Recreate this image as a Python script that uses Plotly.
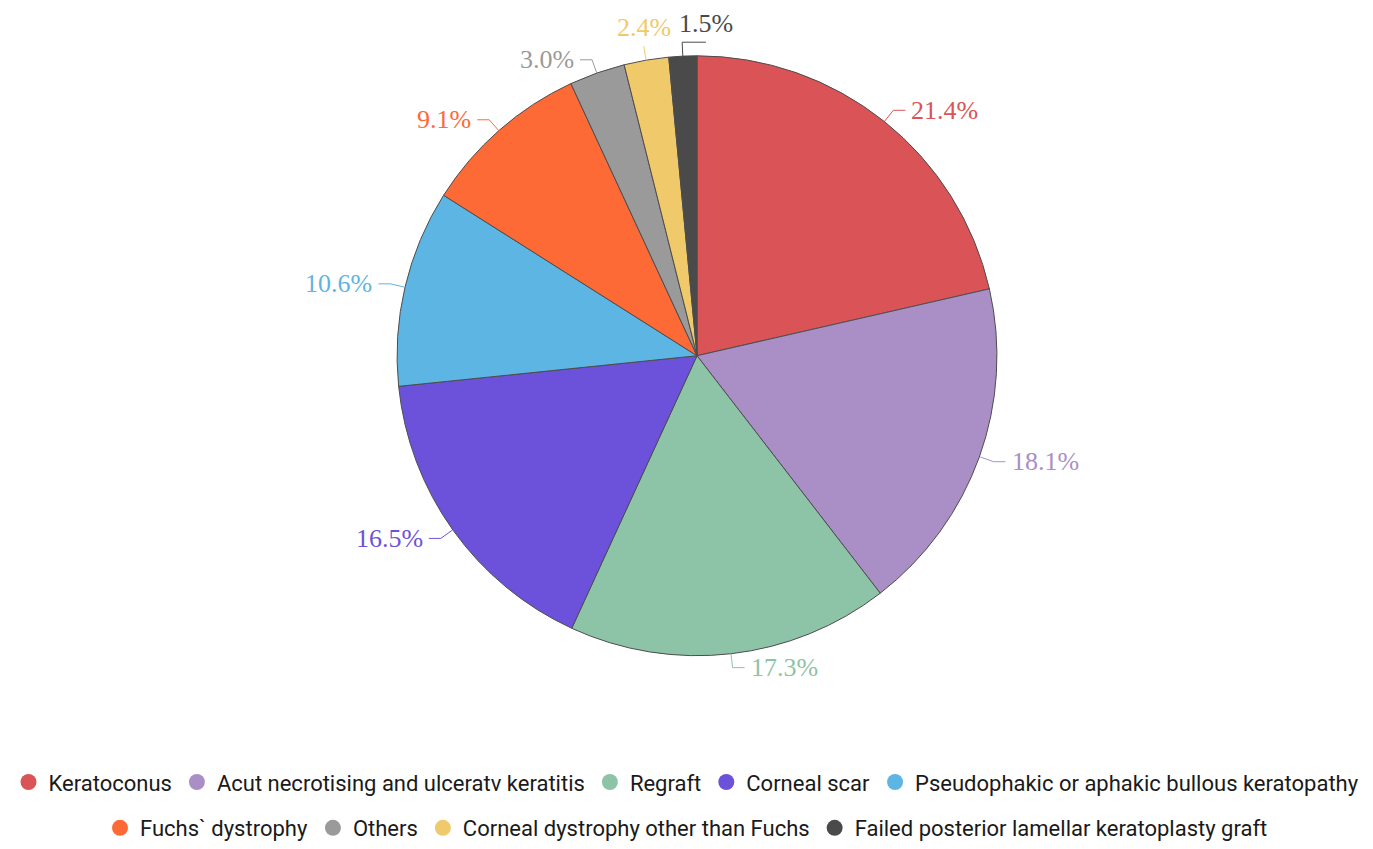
import math
import plotly.graph_objects as go

# Indications for keratoplasty (share of cases, %)
labels = [
    "Keratoconus",
    "Acut necrotising and ulceratv keratitis",
    "Regraft",
    "Corneal scar",
    "Pseudophakic or aphakic bullous keratopathy",
    "Fuchs` dystrophy",
    "Others",
    "Corneal dystrophy other than Fuchs",
    "Failed posterior lamellar keratoplasty graft",
]
shares = [21.4, 18.1, 17.3, 16.5, 10.6, 9.1, 3.0, 2.4, 1.5]
colors = ["#DA5356", "#AA8FC6", "#8DC3A7", "#6C52DA", "#5DB5E3",
          "#FE6A35", "#9A9A9A", "#F0CA6A", "#4A4A4A"]
row_one = 5  # legend entries on the first legend row

W, H = 1373, 849
CX, CY, R = 697, 357, 301          # pie centre / radius in pixels
LABEL_FONT = "Liberation Serif"
LABEL_SIZE = 26
L1, L2 = 14, 12                    # connector segment lengths


def to_paper(x, y):
    return x / W, 1 - y / H


def text_width(s, size):
    w = 0
    for ch in s:
        if ch == ".":
            w += 0.25
        elif ch == "%":
            w += 0.833
        else:
            w += 0.5
    return w * size


half_w = min(CX, W - CX)
fig = go.Figure()
fig.add_trace(go.Pie(
    labels=labels,
    values=shares,
    sort=False,
    direction="clockwise",
    rotation=0,
    textinfo="none",
    hoverinfo="label+percent",
    marker=dict(colors=colors, line=dict(color="#4d4d4d", width=1)),
    domain=dict(x=[(CX - half_w) / W, (CX + half_w) / W],
                y=[1 - (CY + R) / H, 1 - (CY - R) / H]),
    showlegend=False,
))

# outside labels with connector lines
total = sum(shares)
cum = 0.0
annotations = []
shapes = []
prev_top_right = None
for lab, val, col in zip(labels, shares, colors):
    theta = 2 * math.pi * (cum + val / 2) / total
    cum += val
    s, c = math.sin(theta), math.cos(theta)
    ex, ey = CX + R * s, CY - R * c
    mx, my = CX + (R + L1) * s, CY - (R + L1) * c
    text = f"{val:.1f}%"
    tw = text_width(text, LABEL_SIZE)
    if c > 0 and abs(s) < 0.2:
        # labels near the top sit above the connector, nudged apart
        tx = mx
        if prev_top_right is not None and tx - tw / 2 < prev_top_right + 8:
            tx = prev_top_right + 8 + tw / 2
        prev_top_right = tx + tw / 2
        pts = [(ex, ey), (mx, my), (tx, my)]
        ax, ay = to_paper(tx, my - 2)
        annotations.append(dict(x=ax, y=ay, xref="paper", yref="paper",
                                text=text, showarrow=False,
                                xanchor="center", yanchor="bottom",
                                font=dict(family=LABEL_FONT, size=LABEL_SIZE, color=col)))
    else:
        side = 1 if s >= 0 else -1
        qx, qy = mx + side * L2, my
        pts = [(ex, ey), (mx, my), (qx, qy)]
        ax, ay = to_paper(qx + side * 4, qy)
        annotations.append(dict(x=ax, y=ay, xref="paper", yref="paper",
                                text=text, showarrow=False,
                                xanchor="left" if side > 0 else "right",
                                yanchor="middle",
                                font=dict(family=LABEL_FONT, size=LABEL_SIZE, color=col)))
    path = ""
    for i, (px, py) in enumerate(pts):
        fx, fy = to_paper(px, py)
        path += ("M" if i == 0 else "L") + f"{fx},{fy} "
    shapes.append(dict(type="path", path=path.strip(), xref="paper", yref="paper",
                       line=dict(color=col, width=1)))

# legend entries, split over two centred rows
for i, (lab, col) in enumerate(zip(labels, colors)):
    fig.add_trace(go.Scatter(
        x=[None], y=[None], mode="markers", name=lab,
        marker=dict(color=col, size=18, symbol="circle"),
        legend="legend" if i < row_one else "legend2",
        showlegend=True, hoverinfo="skip",
    ))

legend_style = dict(orientation="h", xanchor="center", x=0.5, yanchor="middle",
                    font=dict(family="Roboto", size=22, color="#1a1a1a"),
                    bgcolor="rgba(0,0,0,0)", itemclick=False, itemdoubleclick=False)

fig.update_layout(
    width=W, height=H,
    margin=dict(l=0, r=0, t=0, b=0),
    paper_bgcolor="white",
    plot_bgcolor="white",
    xaxis=dict(visible=False),
    yaxis=dict(visible=False),
    annotations=annotations,
    shapes=shapes,
    legend=dict(y=1 - 785 / H, **legend_style),
    legend2=dict(y=1 - 831 / H, **legend_style),
)

fig.write_html("out.html")
